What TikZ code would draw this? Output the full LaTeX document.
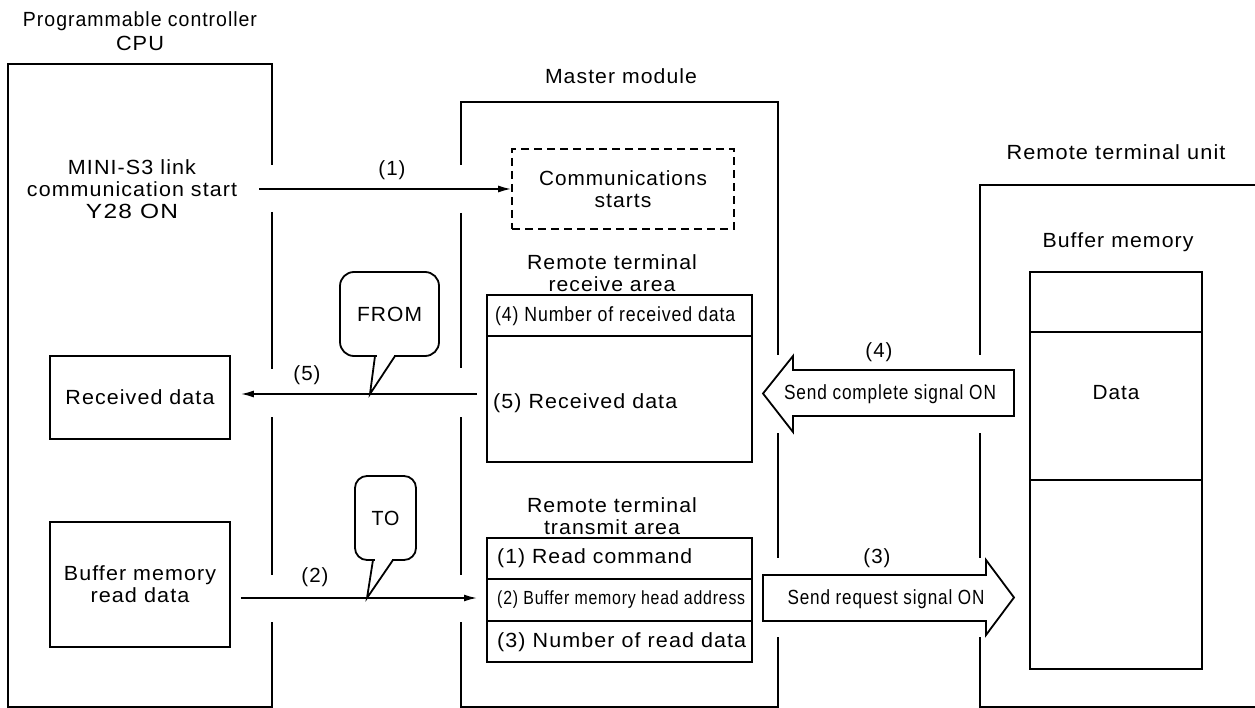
\documentclass[tikz,border=0pt]{standalone}
\usepackage{fontspec}
\setmainfont{Liberation Sans}[LetterSpace=5]
\usepackage{graphicx}
\usetikzlibrary{arrows.meta}
\newcommand\fw[2]{\resizebox{#1pt}{\height}{#2}}
\newcommand\mf{\fontsize{20.5}{22}\selectfont}
\begin{document}
\begin{tikzpicture}[x=1pt,y=-1pt,
  ln/.style={line width=1.8pt},
  txt/.style={font=\mf, inner sep=0pt, align=center},
  lt/.style={font=\mf, inner sep=0pt, anchor=west},
  arr/.style={line width=1.6pt,-{Latex[length=13pt,width=7pt]}},
  cellbox/.style={draw, line width=1.8pt, inner sep=0pt},
]
\useasboundingbox (0,0) rectangle (1255,708);
\fill[white] (0,0) rectangle (1255,708);

% ---------- CPU frame ----------
\draw[ln] (272,165) -- (272,64) -- (8,64) -- (8,707) -- (272,707) -- (272,622);
\draw[ln] (272,212) -- (272,369);
\draw[ln] (272,417) -- (272,575);
\node[txt] (cput) at (140,31) {\fw{234}{Programmable controller}\\[2pt]\fw{48}{CPU}};
\node[txt] (y28) at (132,189) {\fw{128}{MINI-S3 link}\\\fw{210}{communication start}\\\fw{92}{Y28 ON}};
\node[cellbox, minimum width=180pt, minimum height=83pt, font=\mf] (rd) at (140,397.5) {\fw{149}{Received data}};
\node[cellbox, minimum width=180pt, minimum height=125pt, font=\mf, align=center] (bm) at (140,584.5) {\fw{152}{Buffer memory}\\\fw{99}{read data}};

% ---------- Master module frame ----------
\draw[ln] (461,165) -- (461,102) -- (778,102) -- (778,355);
\draw[ln] (461,213) -- (461,368);
\draw[ln] (461,417) -- (461,575);
\draw[ln] (461,622) -- (461,707) -- (778,707) -- (778,637);
\draw[ln] (778,433) -- (778,558);
\node[txt] (mmt) at (621,76) {\fw{152}{Master module}};

\node[cellbox, dash pattern=on 8pt off 5pt, minimum width=222pt, minimum height=80pt, font=\mf, align=center] (cs) at (623,189) {\fw{168}{Communications}\\\fw{57}{starts}};

% receive area
\node[txt] (rat) at (612,273) {\fw{170}{Remote terminal}\\\fw{127}{receive area}};
\node[cellbox, minimum width=265pt, minimum height=167pt] (rxa) at (619.5,378.5) {};
\draw[ln] (rxa.west |- 0,336) -- (rxa.east |- 0,336);
\node[lt] (r4) at (495,316) {\fw{240}{(4) Number of received data}};
\node[lt] (r5) at (493,403) {\fw{184}{(5) Received data}};

% transmit area
\node[txt] (tat) at (612,516) {\fw{170}{Remote terminal}\\\fw{136}{transmit area}};
\node[cellbox, minimum width=265pt, minimum height=124pt] (txa) at (619.5,600) {};
\draw[ln] (txa.west |- 0,579) -- (txa.east |- 0,579);
\draw[ln] (txa.west |- 0,621) -- (txa.east |- 0,621);
\node[lt] (t1) at (497,558) {\fw{195}{(1) Read command}};
\node[lt, font=\fontsize{19}{22}\selectfont] (t2) at (497,600) {\fw{248}{(2) Buffer memory head address}};
\node[lt] (t3) at (497,642) {\fw{249}{(3) Number of read data}};

% ---------- Remote terminal unit frame ----------
\draw[ln] (980,355) -- (980,185) -- (1256,185);
\draw[ln] (980,433) -- (980,558);
\draw[ln] (980,637) -- (980,707) -- (1256,707);
\node[txt] (rtut) at (1116,152) {\fw{219}{Remote terminal unit}};
\node[txt] (bmt) at (1118,242) {\fw{151}{Buffer memory}};
\node[cellbox, minimum width=172pt, minimum height=60pt] (bm1) at (1116,302) {};
\node[cellbox, minimum width=172pt, minimum height=148pt] (bm2) at (1116,406) {};
\node[cellbox, minimum width=172pt, minimum height=189pt] (bm3) at (1116,574.5) {};
\node[txt] (data) at (1116,393) {\fw{47}{Data}};

% ---------- callouts ----------
\node[draw, ln, rounded corners=14pt, minimum width=99pt, minimum height=84pt, font=\mf] (from) at (389.5,314) {\fw{65}{FROM}};
\fill[white] (376.5,352) rectangle (393.5,360);
\draw[ln, line join=miter] (375,356) -- (370,394) -- (395,356);

\node[draw, ln, rounded corners=12pt, minimum width=61pt, minimum height=84pt, font=\mf] (to) at (385.5,518) {\fw{28}{TO}};
\fill[white] (374.5,556) rectangle (391.5,564);
\draw[ln, line join=miter] (373,560) -- (367,598) -- (393,560);

% ---------- connectors ----------
\coordinate (a1s) at (259,189);
\draw[arr] (a1s) -- (cs.west);
\node[txt] (l1) at (392,170) {(1)};

\coordinate (a5s) at (477,394);
\draw[arr] (a5s) -- ([xshift=10pt]rd.east |- a5s);
\node[txt] (l5) at (307,375) {(5)};

\coordinate (a2e) at (477,598);
\draw[arr] ([xshift=10pt]bm.east |- a2e) -- (a2e);
\node[txt] (l2) at (315,577) {(2)};

% block arrow (4)
\draw[ln, line join=miter] (1014,370) -- (793,370) -- (793,356) -- (763,393.5) -- (793,432) -- (793,416) -- (1014,416) -- cycle;
\node[txt] (sc) at (890,394) {\fw{212}{Send complete signal ON}};
\node[txt] (l4) at (879,352) {(4)};

% block arrow (3)
\draw[ln, line join=miter] (763,575) -- (986,575) -- (986,560) -- (1014,597.5) -- (986,635) -- (986,621) -- (763,621) -- cycle;
\node[txt] (sr) at (886,599) {\fw{197}{Send request signal ON}};
\node[txt] (l3) at (877,558) {(3)};
\end{tikzpicture}
\end{document}
